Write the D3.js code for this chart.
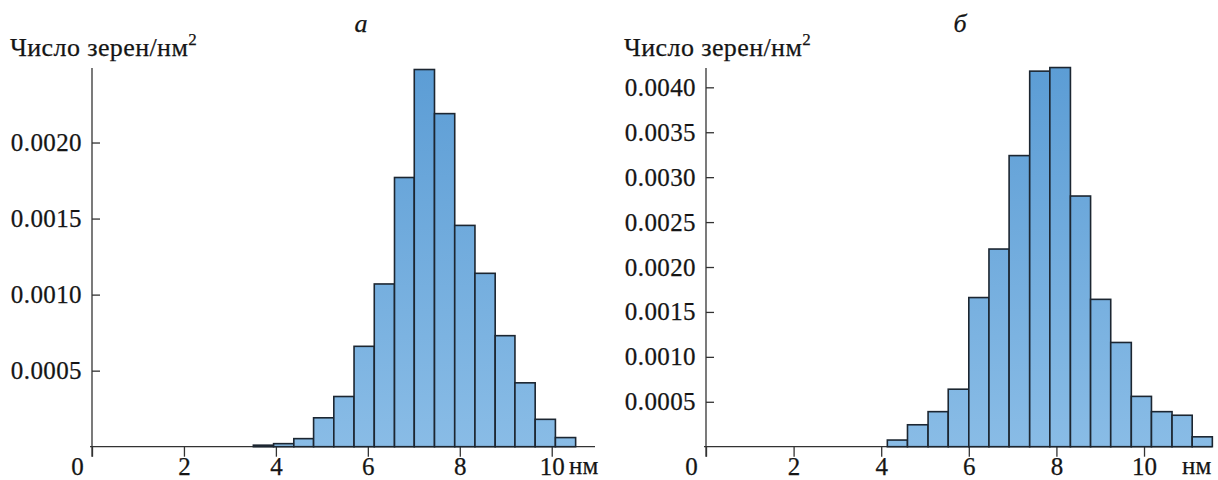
<!DOCTYPE html>
<html>
<head>
<meta charset="utf-8">
<script src="https://cdn.jsdelivr.net/npm/d3@7"></script>
<style>
  body { margin: 0; background: #fff; }
  svg text { font-family: "Liberation Serif", "Times New Roman", Times, serif !important; fill: #151515; stroke: #151515; stroke-width: 0.25px; }
</style>
</head>
<body>
<div id="chart"></div>
<script>
// panel a: bin left edges (nm) and densities
const binsA = [3.51, 3.95, 4.39, 4.82, 5.26, 5.70, 6.14, 6.58, 7.01, 7.45, 7.89, 8.33, 8.77, 9.20, 9.64, 10.08];
const binEndA = 10.52;
const valuesA = [0.00001, 0.00002, 0.000053, 0.00019, 0.00033, 0.00066, 0.00107, 0.00177, 0.00248, 0.00219, 0.001455, 0.00114, 0.00073, 0.00042, 0.00018, 0.00006];
const yTicksA = [0.0005, 0.0010, 0.0015, 0.0020];

// panel b
const binsB = [4.14, 4.60, 5.07, 5.53, 6.00, 6.46, 6.92, 7.39, 7.85, 8.32, 8.78, 9.24, 9.71, 10.17, 10.64, 11.10];
const binEndB = 11.56;
const valuesB = [0.000074, 0.000244, 0.00039, 0.00064, 0.00166, 0.0022, 0.00324, 0.00418, 0.00422, 0.00279, 0.00164, 0.00116, 0.00056, 0.00039, 0.00035, 0.00011];
const yTicksB = [0.0005, 0.0010, 0.0015, 0.0020, 0.0025, 0.0030, 0.0035, 0.0040];

const xTicks = [0, 2, 4, 6, 8, 10];
const yLabel = "Число зерен/нм";
const unitLabel = "нм";
const titles = ["а", "б"];

const width = 1218;
const height = 480;
const baseY = 446.7;
const topY = 68;
const serif = "'Liberation Serif', 'Times New Roman', Times, serif";

const svg = d3.select("#chart").append("svg")
    .attr("width", width)
    .attr("height", height)
    .attr("font-family", serif);

const defs = svg.append("defs");
const grad = defs.append("linearGradient")
    .attr("id", "barFill")
    .attr("gradientUnits", "userSpaceOnUse")
    .attr("x1", 0).attr("x2", 0)
    .attr("y1", topY).attr("y2", baseY);
grad.append("stop").attr("offset", 0).attr("stop-color", "#5c9dd5");
grad.append("stop").attr("offset", 1).attr("stop-color", "#89bce6");

function drawPanel(opts) {
    const x = d3.scaleLinear().domain([0, opts.xMax]).range([opts.left, opts.right]);
    const y = d3.scaleLinear().domain([0, opts.yMax]).range([baseY, topY]);
    const g = svg.append("g");

    const data = opts.bins.map((b, i) => ({
        x0: b,
        x1: i < opts.bins.length - 1 ? opts.bins[i + 1] : opts.binEnd,
        v: opts.values[i]
    }));

    // x axis (ticks point down)
    const xAxis = g.append("g")
        .attr("transform", `translate(0,${baseY})`)
        .call(d3.axisBottom(x).tickValues(xTicks).tickSize(10).tickFormat(d3.format("d")))
        .attr("font-family", serif);
    xAxis.select(".domain").attr("d", `M${opts.left - 2},0H${opts.axisEnd}`)
        .attr("stroke", "#333").attr("stroke-width", 1.3);
    xAxis.selectAll("line").attr("stroke", "#333").attr("stroke-width", 1.3);
    xAxis.selectAll("text")
        .attr("font-size", 25)
        .attr("dy", null)
        .attr("y", 28)
        .attr("x", d => d === 0 ? -15 : 0);

    // y axis (ticks point inward)
    const yAxis = g.append("g")
        .attr("transform", `translate(${opts.left},0)`)
        .call(d3.axisRight(y).tickValues(opts.yTicks).tickSize(8).tickFormat(d3.format(".4f")))
        .attr("font-family", serif);
    yAxis.select(".domain").attr("d", `M0,${topY}V${baseY + 10}`)
        .attr("stroke", "#333").attr("stroke-width", 1.3);
    yAxis.selectAll("line").attr("stroke", "#333").attr("stroke-width", 1.3);
    yAxis.selectAll("text")
        .attr("x", -10)
        .attr("text-anchor", "end")
        .attr("font-size", 25)
        .attr("letter-spacing", 0.4);

    // bars
    g.append("g")
        .selectAll("rect")
        .data(data)
        .join("rect")
        .attr("x", d => x(d.x0))
        .attr("width", d => x(d.x1) - x(d.x0))
        .attr("y", d => y(d.v))
        .attr("height", d => baseY - y(d.v))
        .attr("fill", "url(#barFill)")
        .attr("stroke", "#1c2631")
        .attr("stroke-width", 1.6);

    // unit label
    g.append("text")
        .attr("x", opts.unitX)
        .attr("y", baseY + 27)
        .attr("font-size", 25)
        .text(unitLabel);

    // y label with superscript
    const lab = g.append("text")
        .attr("x", opts.labelX)
        .attr("y", 56)
        .attr("font-size", 26)
        .attr("letter-spacing", 0.4)
        .text(yLabel);
    lab.append("tspan")
        .attr("dy", -11)
        .attr("font-size", 17)
        .text("2");

    // panel letter
    g.append("text")
        .attr("x", opts.titleX)
        .attr("y", 32)
        .attr("text-anchor", "middle")
        .attr("font-size", 26)
        .attr("font-style", "italic")
        .text(opts.title);
}

drawPanel({
    bins: binsA, binEnd: binEndA, values: valuesA, yTicks: yTicksA,
    xMax: 11, left: 92, right: 597.7, axisEnd: 595,
    yMax: 0.00249, unitX: 569, labelX: 10, titleX: 361, title: titles[0]
});

drawPanel({
    bins: binsB, binEnd: binEndB, values: valuesB, yTicks: yTicksB,
    xMax: 11.6, left: 706, right: 1214.1, axisEnd: 1212,
    yMax: 0.004215, unitX: 1182, labelX: 624, titleX: 960, title: titles[1]
});
</script>
</body>
</html>
